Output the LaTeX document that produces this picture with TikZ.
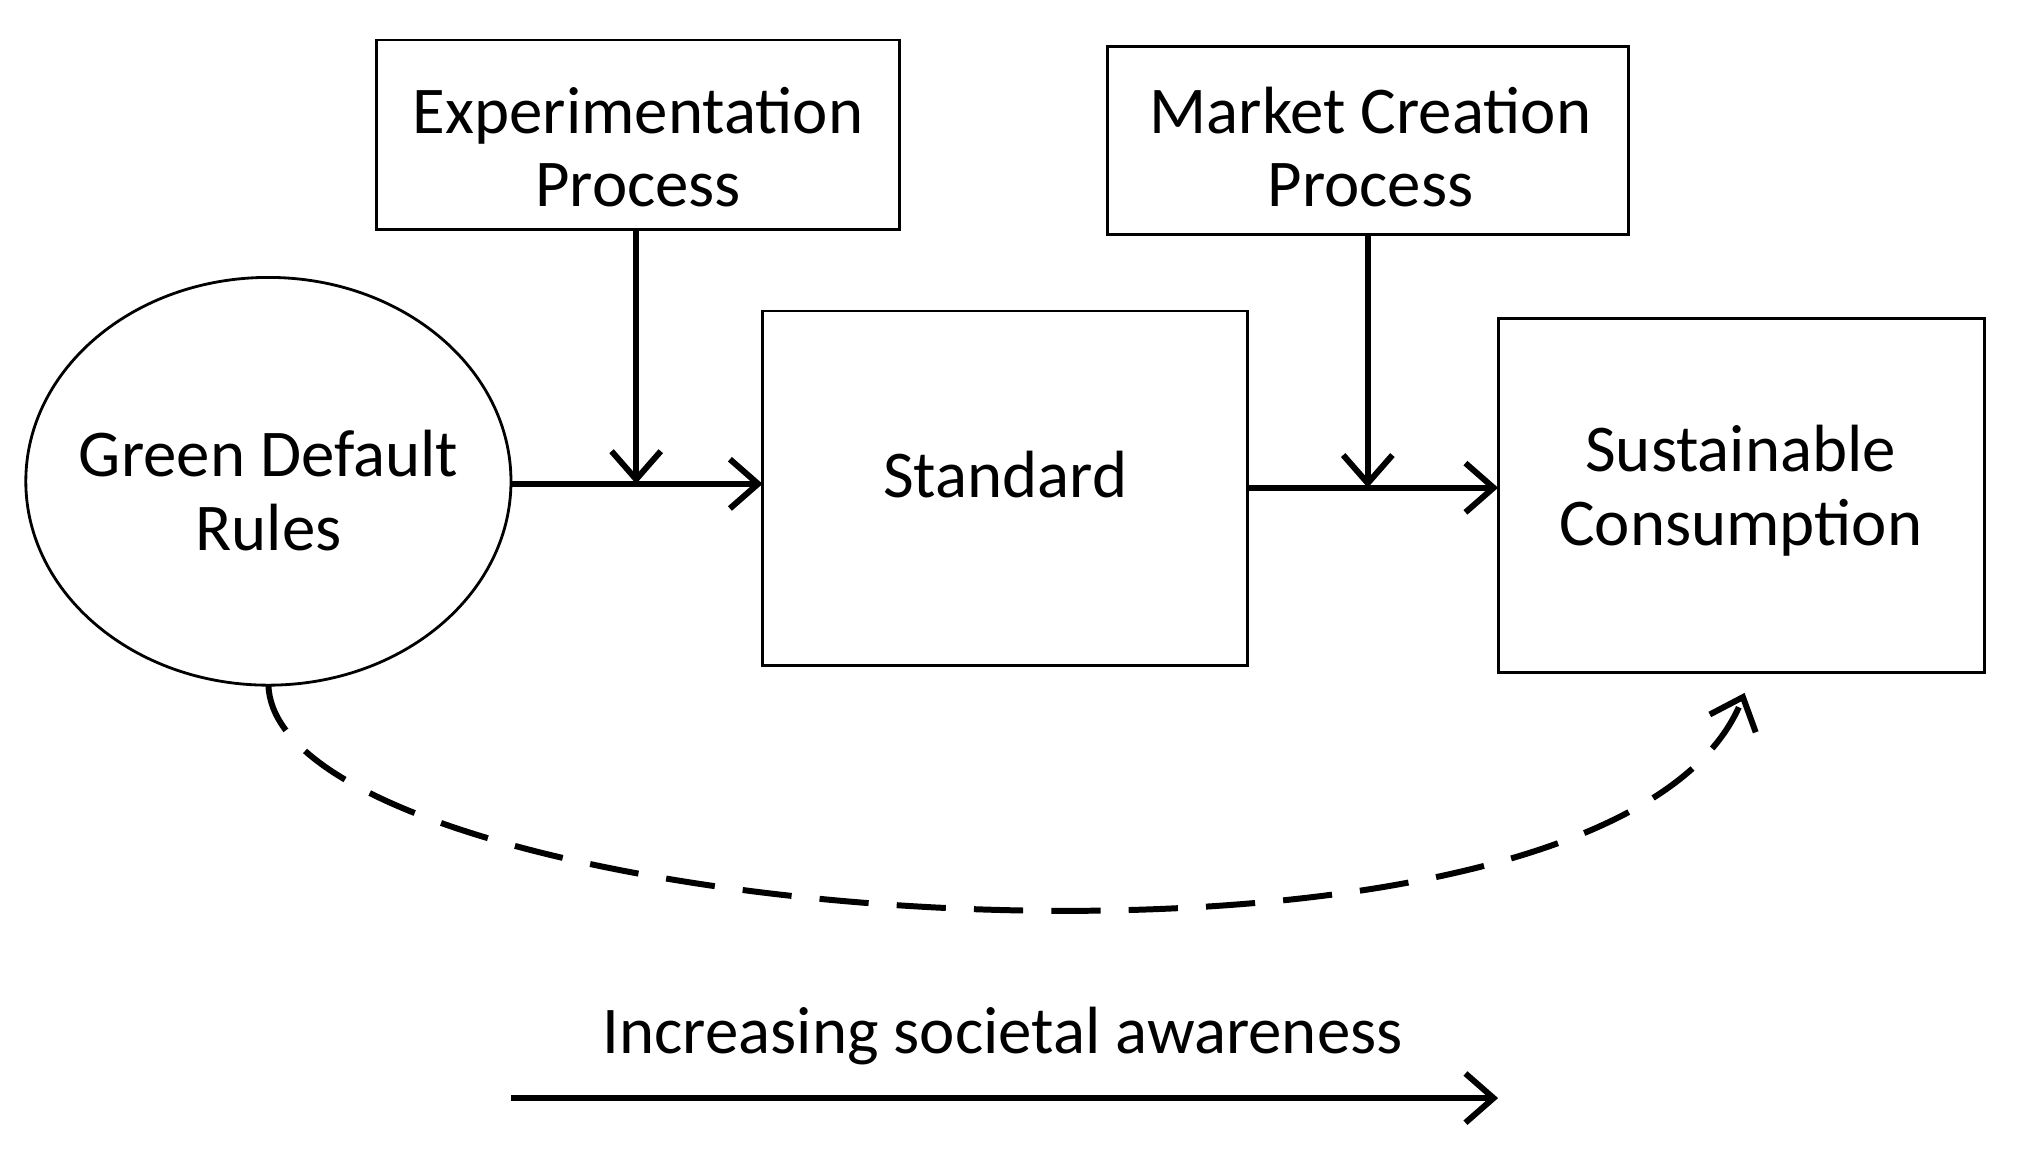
\documentclass[tikz,border=0pt]{standalone}
\usepackage{fontspec}
\setmainfont{Carlito}
\usetikzlibrary{arrows.meta}
\begin{document}
\begin{tikzpicture}[x=0.0129cm,y=-0.0129cm,
  lbl/.style={inner sep=0pt,font=\fontsize{19}{21}\selectfont,align=center},
  conn/.style={line width=1.7pt,-{Straight Barb[length=8pt,width=14pt,line width=1.7pt]}}]
\useasboundingbox (0,0) rectangle (1567,893);
\draw[thick] (292,31) rectangle (697,178);
\node[lbl] (exp) at (494.5,114) {Experimentation\\Process};
\coordinate (expb) at (493,178);
\draw[thick] (858,36) rectangle (1262,182);
\node[lbl] (mkt) at (1062,114) {Market Creation\\Process};
\coordinate (mktb) at (1060,182);
\draw[thick] (208,373) ellipse [x radius=188,y radius=158];
\node[lbl] (gdr) at (208,380) {Green Default\\Rules};
\coordinate (gdrR) at (396,375);
\coordinate (gdrB) at (208,531);
\draw[thick] (591,241) rectangle (967,516);
\node[lbl] (std) at (779,368) {Standard};
\coordinate (stdL) at (591,375);
\coordinate (stdR) at (967,378);
\draw[thick] (1161,247) rectangle (1538,521);
\node[lbl] (sus) at (1349,380) {Sustainable\\Consumption};
\coordinate (susL) at (1161,378);
\coordinate (susB) at (1352,537);
\coordinate (j1) at (493,375);
\coordinate (j2) at (1060,378);
\draw[conn] (gdrR) -- (stdL);
\draw[conn] (expb) -- (j1);
\draw[conn] (stdR) -- (susL);
\draw[conn] (mktb) -- (j2);
\draw[conn,dash pattern=on 14pt off 8pt] (gdrB) .. controls (215,720) and (1250,800) .. (susB);
\node[lbl] (inc) at (777,803) {Increasing societal awareness};
\coordinate (a1) at (396,851);
\coordinate (a2) at (1161,851);
\draw[conn] (a1) -- (a2);
\end{tikzpicture}
\end{document}
